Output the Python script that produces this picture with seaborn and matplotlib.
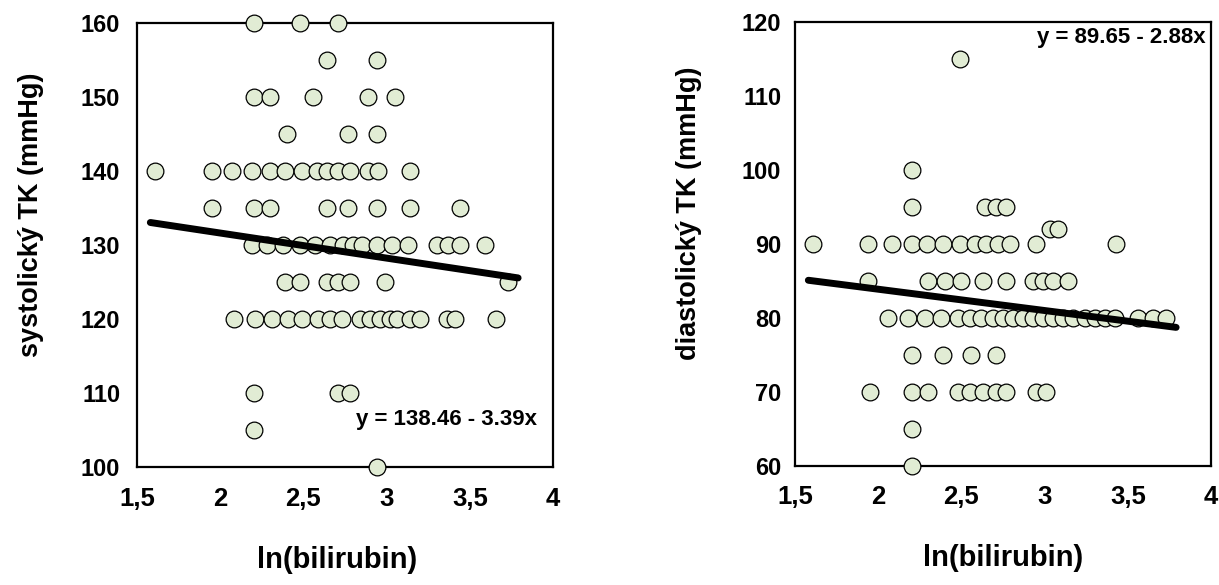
import matplotlib
matplotlib.use("Agg")
import matplotlib.pyplot as plt
import seaborn as sns
import pandas as pd

# ---- data ----
sys_x = [2.20, 2.48, 2.71,
         2.64, 2.94,
         2.20, 2.30, 2.56, 2.89, 3.05,
         2.40, 2.77, 2.94,
         1.61, 1.95, 2.07, 2.19, 2.30, 2.39, 2.49, 2.58, 2.64, 2.71, 2.78, 2.89, 2.95, 3.14,
         1.95, 2.20, 2.30, 2.64, 2.77, 2.94, 3.14, 3.44,
         2.19, 2.28, 2.38, 2.48, 2.57, 2.66, 2.74, 2.80, 2.85, 2.94, 3.03, 3.13, 3.30, 3.37, 3.44, 3.59,
         2.39, 2.48, 2.64, 2.71, 2.78, 2.99, 3.73,
         2.08, 2.21, 2.31, 2.41, 2.49, 2.59, 2.66, 2.73, 2.84, 2.90, 2.96, 3.02, 3.06, 3.14, 3.20, 3.36, 3.41, 3.66,
         2.20, 2.71, 2.78,
         2.20,
         2.94]
sys_y = [160, 160, 160,
         155, 155,
         150, 150, 150, 150, 150,
         145, 145, 145,
         140, 140, 140, 140, 140, 140, 140, 140, 140, 140, 140, 140, 140, 140,
         135, 135, 135, 135, 135, 135, 135, 135,
         130, 130, 130, 130, 130, 130, 130, 130, 130, 130, 130, 130, 130, 130, 130, 130,
         125, 125, 125, 125, 125, 125, 125,
         120, 120, 120, 120, 120, 120, 120, 120, 120, 120, 120, 120, 120, 120, 120, 120, 120, 120,
         110, 110, 110,
         105,
         100]

dia_x = [2.49,
         2.20,
         2.20, 2.64, 2.71, 2.77,
         3.03, 3.08,
         1.61, 1.94, 2.08, 2.20, 2.29, 2.39, 2.49, 2.58, 2.65, 2.72, 2.79, 2.95, 3.43,
         1.94, 2.30, 2.40, 2.50, 2.63, 2.77, 2.93, 2.99, 3.05, 3.14,
         2.06, 2.18, 2.28, 2.38, 2.48, 2.55, 2.62, 2.69, 2.75, 2.81, 2.87, 2.93, 2.99, 3.05, 3.11,
         3.17, 3.24, 3.30, 3.36, 3.42, 3.56, 3.65, 3.73,
         2.20, 2.39, 2.56, 2.71,
         1.95, 2.20, 2.30, 2.48, 2.55, 2.63, 2.71, 2.77, 2.95, 3.01,
         2.20,
         2.20]
dia_y = [115,
         100,
         95, 95, 95, 95,
         92, 92,
         90, 90, 90, 90, 90, 90, 90, 90, 90, 90, 90, 90, 90,
         85, 85, 85, 85, 85, 85, 85, 85, 85, 85,
         80, 80, 80, 80, 80, 80, 80, 80, 80, 80, 80, 80, 80, 80, 80,
         80, 80, 80, 80, 80, 80, 80, 80,
         75, 75, 75, 75,
         70, 70, 70, 70, 70, 70, 70, 70, 70, 70,
         65,
         60]

# regression equations shown on the chart
sys_coef = (138.46, -3.39)
dia_coef = (89.65, -2.88)
line_range = [1.58, 3.79]

x_ticks = [1.5, 2, 2.5, 3, 3.5, 4]
x_ticklabels = ["1,5", "2", "2,5", "3", "3,5", "4"]
sys_ticks = [100, 110, 120, 130, 140, 150, 160]
dia_ticks = [60, 70, 80, 90, 100, 110, 120]

# ---- styling ----
sns.set_style("white")
plt.rcParams["font.family"] = ["Liberation Sans", "DejaVu Sans"]
plt.rcParams["font.weight"] = "bold"
for k in ["text.color", "axes.labelcolor", "xtick.color", "ytick.color"]:
    plt.rcParams[k] = "black"

fig = plt.figure(figsize=(12.19, 5.85), dpi=100)
ax1 = fig.add_axes([0.1124, 0.2009, 0.3413, 0.759])
ax2 = fig.add_axes([0.6522, 0.2034, 0.3413, 0.759])

face = "#E1ECD4"

def panel(ax, xs, ys, coef, yticks, ylabel, ypad, xlab_x, eq, eqpos, eqha):
    df = pd.DataFrame({"x": xs, "y": ys})
    sns.scatterplot(data=df, x="x", y="y", ax=ax, s=145, color=face,
                    edgecolor="black", linewidth=0.9, clip_on=False, zorder=3)
    ldf = pd.DataFrame({"x": line_range,
                        "y": [coef[0] + coef[1] * v for v in line_range]})
    sns.lineplot(data=ldf, x="x", y="y", ax=ax, color="black", linewidth=5,
                 solid_capstyle="round", zorder=4)
    ax.set_xlim(1.5, 4)
    ax.set_ylim(yticks[0], yticks[-1])
    ax.set_xticks(x_ticks)
    ax.set_xticklabels(x_ticklabels)
    ax.set_yticks(yticks)
    ax.tick_params(axis="both", length=0)
    ax.tick_params(axis="x", pad=14, labelsize=18.5)
    ax.tick_params(axis="y", pad=ypad, labelsize=17)
    for lab in ax.get_xticklabels() + ax.get_yticklabels():
        lab.set_fontweight("bold")
    for sp in ax.spines.values():
        sp.set_visible(True)
        sp.set_color("black")
        sp.set_linewidth(1.6)
    ax.set_xlabel("ln(bilirubin)", fontsize=21, fontweight="bold")
    ax.xaxis.set_label_coords(xlab_x, -0.208)
    ax.xaxis.label.set_va("center")
    ax.set_ylabel(ylabel, fontsize=19.5, fontweight="bold")
    ax.yaxis.set_label_coords(-0.255, 0.57)
    ax.yaxis.label.set_va("center")
    ax.text(eqpos[0], eqpos[1], eq, transform=ax.transAxes, fontsize=16,
            fontweight="bold", ha=eqha, va="center")

panel(ax1, sys_x, sys_y, sys_coef, sys_ticks, "systolický TK (mmHg)", 12, 0.48,
      "y = 138.46 - 3.39x", (0.962, 0.107), "right")
panel(ax2, dia_x, dia_y, dia_coef, dia_ticks, "diastolický TK (mmHg)", 10, 0.5,
      "y = 89.65 - 2.88x", (0.986, 0.965), "right")

fig.savefig("out.png", dpi=100)
